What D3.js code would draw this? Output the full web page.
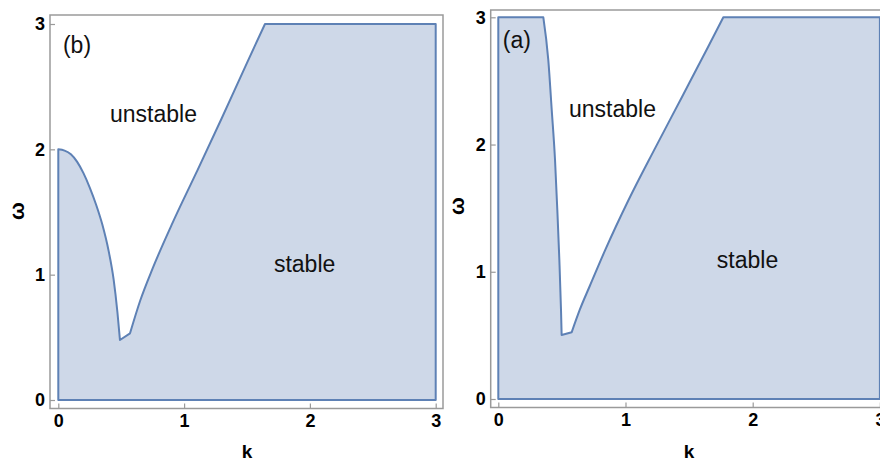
<!DOCTYPE html>
<html>
<head>
<meta charset="utf-8">
<script src="https://cdn.jsdelivr.net/npm/d3@7"></script>
<style>
  html, body { margin: 0; padding: 0; background: #fff; }
  svg { display: block; }
  text { font-family: "Liberation Sans", Arial, sans-serif; }
</style>
</head>
<body>
<svg id="chart" width="880" height="461"></svg>
<script>
// ---- data ----
const tickValues = [0, 1, 2, 3];
const kDomain = [0, 3];
const wDomain = [0, 3];

// panel (b): falling branch and rising branch of the stability boundary
const bDescK = [0, 0.05, 0.1, 0.15, 0.2, 0.25, 0.3, 0.35, 0.4, 0.44, 0.47, 0.49];
const bDescW = [2.0, 1.99, 1.96, 1.90, 1.81, 1.695, 1.56, 1.40, 1.19, 0.96, 0.70, 0.479];
const bRiseK = [0.57, 0.65, 0.75, 0.9, 1.1, 1.3, 1.5, 1.643];
const bRiseW = [0.532, 0.79, 1.05, 1.395, 1.82, 2.25, 2.69, 3.0];

// panel (a)
const aDescK = [0.354, 0.393, 0.420, 0.446, 0.464, 0.480, 0.493, 0.498];
const aDescW = [3.0, 2.665, 2.272, 1.879, 1.486, 1.093, 0.700, 0.503];
const aRiseK = [0.577, 0.64, 0.72, 0.84, 1.022, 1.232, 1.442, 1.651, 1.769];
const aRiseW = [0.525, 0.70, 0.89, 1.17, 1.56, 1.97, 2.37, 2.77, 3.0];

// region labels: [text, k, omega]
const bLabels = [["(b)", 0.037, 2.77], ["unstable", 0.411, 2.22], ["stable", 1.714, 1.02]];
const aLabels = [["(a)", 0.035, 2.76], ["unstable", 0.556, 2.217], ["stable", 1.718, 1.03]];

// ---- layout ----
const panels = [
  { descK: bDescK, descW: bDescW, riseK: bRiseK, riseW: bRiseW, labels: bLabels,
    frame: [50, 15, 443, 408.5], xr: [58.3, 435.7], yr: [400, 24], wLabelX: 24, wLabelY: 211 },
  { descK: aDescK, descW: aDescW, riseK: aRiseK, riseW: aRiseW, labels: aLabels,
    frame: [490.7, 10, 890, 407.5], xr: [498.3, 879.9], yr: [399, 17.3], wLabelX: 464, wLabelY: 206 }
];

const svg = d3.select("#chart");
const FILL = "#ced8e8", LINE = "#5e81b5", FRAME = "#9a9a9a";

panels.forEach(p => {
  const x = d3.scaleLinear().domain(kDomain).range(p.xr);
  const y = d3.scaleLinear().domain(wDomain).range(p.yr);
  const g = svg.append("g");

  const kMax = kDomain[1], wMax = wDomain[1];
  const desc = p.descK.map((k, i) => [k, p.descW[i]]);
  const rise = p.riseK.map((k, i) => [k, p.riseW[i]]);
  const start = desc[0][0] === 0
    ? [[kMax, 0], [0, 0], desc[0]]
    : [[kMax, 0], [0, 0], [0, wMax], desc[0]];
  const pieces = [
    { pts: start, curve: d3.curveLinear },
    { pts: desc, curve: d3.curveMonotoneX },
    { pts: [desc[desc.length - 1], rise[0]], curve: d3.curveLinear },
    { pts: rise, curve: d3.curveMonotoneX },
    { pts: [rise[rise.length - 1], [kMax, wMax], [kMax, 0]], curve: d3.curveLinear }
  ];
  let d = "";
  pieces.forEach((pc, i) => {
    const s = d3.line().x(v => x(v[0])).y(v => y(v[1])).curve(pc.curve)(pc.pts);
    d += i === 0 ? s : s.replace(/^M/, "L");
  });
  d += "Z";

  g.append("path").attr("d", d)
    .attr("fill", FILL).attr("stroke", LINE).attr("stroke-width", 2)
    .attr("stroke-linejoin", "round");

  // frame
  const [fx0, fy0, fx1, fy1] = p.frame;
  g.append("rect").attr("x", fx0).attr("y", fy0)
    .attr("width", fx1 - fx0).attr("height", fy1 - fy0)
    .attr("fill", "none").attr("stroke", FRAME).attr("stroke-width", 1.5);

  // axes
  const yAxis = d3.axisLeft(y).tickValues(tickValues).tickFormat(d3.format("d"))
    .tickSizeInner(-5).tickSizeOuter(0).tickPadding(5);
  const xAxis = d3.axisBottom(x).tickValues(tickValues).tickFormat(d3.format("d"))
    .tickSizeInner(-5).tickSizeOuter(0).tickPadding(6);

  const ya = g.append("g").attr("transform", `translate(${fx0},0)`).call(yAxis);
  const xa = g.append("g").attr("transform", `translate(0,${fy1})`).call(xAxis);
  [ya, xa].forEach(a => {
    a.select(".domain").remove();
    a.selectAll(".tick line").attr("stroke", FRAME).attr("stroke-width", 1.2);
    a.selectAll(".tick text").attr("fill", "#000")
      .style("font-family", '"Liberation Sans", Arial, sans-serif')
      .style("font-size", "18px").style("font-weight", "bold");
  });

  // axis titles
  g.append("text").attr("x", (p.xr[0] + p.xr[1]) / 2).attr("y", 458)
    .attr("text-anchor", "middle").attr("font-size", 19).attr("font-weight", "bold")
    .attr("fill", "#000").text("k");
  g.append("text").attr("transform", `translate(${p.wLabelX},${p.wLabelY}) rotate(-90)`)
    .attr("text-anchor", "middle").attr("font-size", 21).attr("font-weight", "bold")
    .attr("fill", "#000").text("ω");

  // region labels
  g.selectAll("text.lbl").data(p.labels).enter().append("text")
    .attr("class", "lbl")
    .attr("x", v => x(v[1])).attr("y", v => y(v[2]))
    .attr("font-size", 23).attr("fill", "#111").text(v => v[0]);
});
</script>
</body>
</html>
